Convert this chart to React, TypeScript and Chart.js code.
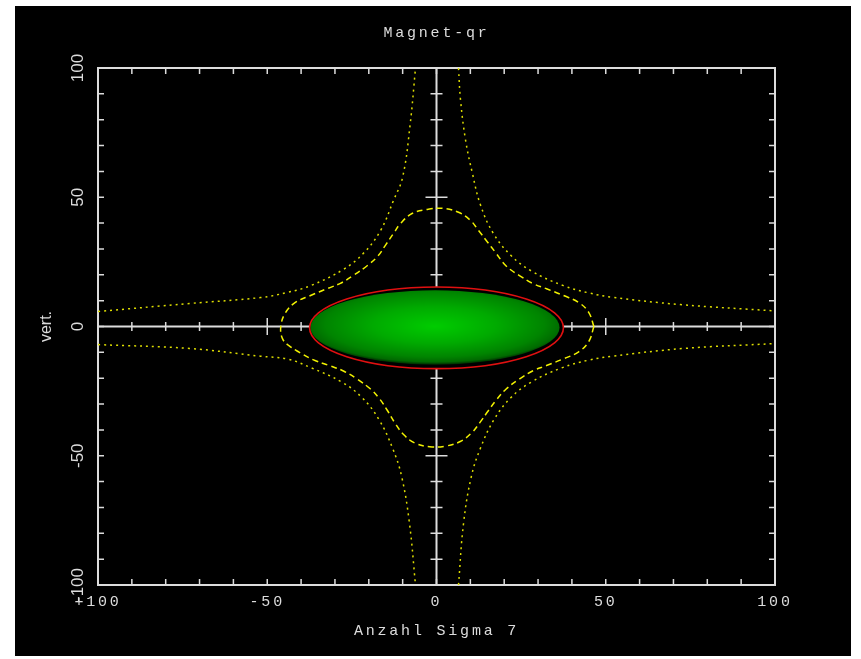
import React, { useEffect, useRef } from 'react';
import { Chart, registerables } from 'chart.js';
Chart.register(...registerables);

// ---- text ----
const TITLE = 'Magnet-qr';
const X_TITLE = 'Anzahl Sigma 7';
const Y_TITLE = 'vert.';

// ---- axes ----
const AXIS_MIN = -100;
const AXIS_MAX = 100;
const TICK_STEP = 10;
const xTickValues = [-100, -50, 0, 50, 100];
const xTickLabels = ['+100', '-50', '0', '50', '100'];
const yTickValues = [-100, -50, 0, 50, 100];
const yTickLabels = ['-100', '-50', '0', '50', '100'];

// ---- dotted hyperbola-like branches ----
const dotULx = [-100, -73, -52, -44, -37, -27.5, -21.6, -16.5, -12.7, -10, -7.8, -6.2];
const dotULy = [5.8, 8.9, 11.2, 13.2, 15.9, 22.1, 28.3, 37.2, 48.8, 57.8, 78, 100];
const dotURx = [6.5, 7.1, 8.6, 10.6, 13, 16.8, 22, 28, 37.5, 45, 52, 72, 100];
const dotURy = [100, 87.6, 72, 59.3, 47, 36, 27.5, 21.5, 15.8, 13, 11.3, 8.5, 6];
const dotLLx = [-100, -73, -52, -44, -37, -28, -22, -17, -13, -10.3, -8, -6.2];
const dotLLy = [-7.0, -8.5, -11.5, -12.6, -16, -21.5, -27.5, -36, -47, -58, -76, -100];
const dotLRx = [6.5, 8, 10.3, 13, 17, 22, 28, 37, 45, 52, 73, 100];
const dotLRy = [-100, -76, -58, -47, -36, -27.5, -21.5, -16, -13, -11.5, -8.5, -6.6];

// ---- dashed closed contour ----
const dashX = [46.5, 45, 42, 37.5, 32.5, 28.5, 24.5, 20.5, 17.4, 15.1, 12.4, 10, 6.5, 1.8, -2.7, -7.1, -10.6, -12.7, -15.1, -17.4, -20.4, -24.5, -28.4, -32.2, -37.2, -41.7, -44.6, -46, -45.5, -43.5, -40.5, -36.5, -31.5, -27.5, -23.5, -19.5, -16.8, -14.6, -12.2, -9.8, -6.5, -2, 2.5, 7, 10.5, 12.8, 15.2, 17.5, 20.5, 24.5, 28.5, 32.5, 37.5, 42, 45, 46.5];
const dashY = [0, 5.4, 9.3, 12, 14.6, 16.6, 19.7, 23.5, 28.7, 32.6, 37.2, 41.1, 44.2, 45.7, 45.3, 43.8, 39.9, 36, 31.4, 27.1, 23.6, 19.8, 16.7, 14.7, 12, 9.3, 5.4, 0, -4.7, -7.5, -10, -12.8, -15.2, -17.2, -20.3, -24.2, -28, -32.3, -37.5, -41.7, -45, -46.5, -46.3, -44.5, -41, -37.2, -32.8, -28.7, -24.3, -20.3, -17.1, -15.1, -12.5, -9.8, -5.8, 0];

// ---- beam ellipse: [centerX, centerY, radiusX, radiusY] ----
const outlineEllipse = [0, -0.5, 37.5, 15.8];
const fillEllipse = [-0.45, -0.35, 36.8, 14.4];

const FG = '#dcdcdc';
const DOT_COLOR = '#dede00';
const DASH_COLOR = '#f2f200';

const pts = (xs: number[], ys: number[]) => xs.map((x, i) => ({ x, y: ys[i] }));

const spacingPlugin = {
  id: 'spacing',
  beforeDraw(chart: any) {
    chart.ctx.letterSpacing = '2.8px';
  },
  afterDatasetsDraw(chart: any) {
    chart.ctx.letterSpacing = '0px';
  },
};

const framePlugin = {
  id: 'frame',
  beforeDatasetsDraw(chart: any) {
    const { ctx, chartArea: a } = chart;
    const xs = chart.scales.x;
    const ys = chart.scales.y;
    const x0 = xs.getPixelForValue(0);
    const y0 = ys.getPixelForValue(0);
    ctx.save();
    ctx.strokeStyle = FG;
    ctx.lineWidth = 2;
    ctx.strokeRect(a.left, a.top, a.right - a.left, a.bottom - a.top);
    ctx.beginPath();
    ctx.moveTo(a.left, y0);
    ctx.lineTo(a.right, y0);
    ctx.moveTo(x0, a.top);
    ctx.lineTo(x0, a.bottom);
    ctx.stroke();
    ctx.lineWidth = 1.5;
    ctx.beginPath();
    const edge = 6;
    xs.ticks.forEach((t: any) => {
      const v = t.value;
      if (v <= xs.min || v >= xs.max) return;
      const p = xs.getPixelForValue(v);
      ctx.moveTo(p, a.top);
      ctx.lineTo(p, a.top + edge);
      ctx.moveTo(p, a.bottom);
      ctx.lineTo(p, a.bottom - edge);
      if (v !== 0) {
        const h = v % 50 === 0 ? 8.5 : 4.5;
        ctx.moveTo(p, y0 - h);
        ctx.lineTo(p, y0 + h);
      }
    });
    ys.ticks.forEach((t: any) => {
      const v = t.value;
      if (v <= ys.min || v >= ys.max) return;
      const p = ys.getPixelForValue(v);
      ctx.moveTo(a.left, p);
      ctx.lineTo(a.left + edge, p);
      ctx.moveTo(a.right, p);
      ctx.lineTo(a.right - edge, p);
      if (v !== 0) {
        const h = v % 50 === 0 ? 11 : 6;
        ctx.moveTo(x0 - h, p);
        ctx.lineTo(x0 + h, p);
      }
    });
    ctx.stroke();
    ctx.restore();
  },
};

const ellipsePlugin = {
  id: 'beamEllipse',
  afterDatasetsDraw(chart: any) {
    const { ctx } = chart;
    const xs = chart.scales.x;
    const ys = chart.scales.y;
    const toPx = (e: number[]) => {
      const cx = xs.getPixelForValue(e[0]);
      const cy = ys.getPixelForValue(e[1]);
      const rx = Math.abs(xs.getPixelForValue(e[0] + e[2]) - cx);
      const ry = Math.abs(ys.getPixelForValue(e[1] + e[3]) - cy);
      return [cx, cy, rx, ry];
    };
    const [ocx, ocy, orx, ory] = toPx(outlineEllipse);
    const [fcx, fcy, frx, fry] = toPx(fillEllipse);
    ctx.save();
    ctx.beginPath();
    ctx.ellipse(ocx, ocy, orx, ory, 0, 0, Math.PI * 2);
    ctx.fillStyle = '#000';
    ctx.fill();
    ctx.restore();

    ctx.save();
    ctx.translate(fcx, fcy);
    ctx.scale(frx, fry);
    const g = ctx.createRadialGradient(0, -0.03, 0, 0, -0.1, 1.1);
    g.addColorStop(0, '#00cc00');
    g.addColorStop(0.45, '#00aa00');
    g.addColorStop(0.8, '#008400');
    g.addColorStop(0.93, '#006a00');
    g.addColorStop(1, '#002800');
    ctx.beginPath();
    ctx.arc(0, 0, 1, 0, Math.PI * 2);
    ctx.fillStyle = g;
    ctx.fill();
    ctx.restore();

    ctx.save();
    ctx.beginPath();
    ctx.ellipse(ocx, ocy, orx, ory, 0, 0, Math.PI * 2);
    ctx.strokeStyle = '#e01010';
    ctx.lineWidth = 1.6;
    ctx.stroke();
    ctx.restore();
  },
};

const lineDs = (data: any[], color: string, dash: number[]) => ({
  data,
  showLine: true,
  pointRadius: 0,
  borderColor: color,
  borderWidth: 1.5,
  borderDash: dash,
  tension: 0.4,
  fill: false,
});

export default function App() {
  const ref = useRef<HTMLCanvasElement | null>(null);
  useEffect(() => {
    if (!ref.current) return;
    const chart = new Chart(ref.current, {
      type: 'scatter',
      data: {
        datasets: [
          lineDs(pts(dotULx, dotULy), DOT_COLOR, [2, 4]),
          lineDs(pts(dotURx, dotURy), DOT_COLOR, [2, 4]),
          lineDs(pts(dotLLx, dotLLy), DOT_COLOR, [2, 4]),
          lineDs(pts(dotLRx, dotLRy), DOT_COLOR, [2, 4]),
          lineDs(pts(dashX, dashY), DASH_COLOR, [6, 4]),
        ] as any,
      },
      options: {
        animation: false,
        responsive: false,
        layout: { padding: { left: 0, right: 76, top: 0, bottom: 0 } },
        plugins: {
          legend: { display: false },
          tooltip: { enabled: false },
          title: {
            display: true,
            text: TITLE,
            color: FG,
            fullSize: false,
            font: { family: "'Liberation Mono', monospace", size: 15, weight: 'normal' },
            padding: { top: 18, bottom: 26 },
          },
        },
        scales: {
          x: {
            type: 'linear',
            min: AXIS_MIN,
            max: AXIS_MAX,
            grid: { display: false },
            border: { display: false },
            afterFit: (s: any) => { s.height = 71; },
            ticks: {
              stepSize: TICK_STEP,
              autoSkip: false,
              maxRotation: 0,
              minRotation: 0,
              color: FG,
              padding: 0.5,
              font: { family: "'Liberation Mono', monospace", size: 15 },
              callback: (v: any) => {
                const i = xTickValues.indexOf(Number(v));
                return i >= 0 ? xTickLabels[i] : '';
              },
            },
            title: {
              display: true,
              text: X_TITLE,
              color: FG,
              font: { family: "'Liberation Mono', monospace", size: 15 },
              padding: { top: 0, bottom: 16 },
            },
          },
          y: {
            type: 'linear',
            min: AXIS_MIN,
            max: AXIS_MAX,
            grid: { display: false, z: 1 },
            border: { display: false },
            afterFit: (s: any) => { s.width = 83; },
            ticks: {
              z: 1,
              stepSize: TICK_STEP,
              autoSkip: false,
              minRotation: 90,
              maxRotation: 90,
              crossAlign: 'center',
              color: FG,
              padding: -5.5,
              font: { family: "'Liberation Sans', sans-serif", size: 17 },
              callback: (v: any) => {
                const i = yTickValues.indexOf(Number(v));
                return i >= 0 ? yTickLabels[i] : '';
              },
            },
            title: {
              display: true,
              text: Y_TITLE,
              color: FG,
              font: { family: "'Liberation Sans', sans-serif", size: 16 },
              padding: { top: 21.5, bottom: 0 },
            },
          },
        },
      } as any,
      plugins: [spacingPlugin, framePlugin, ellipsePlugin],
    });
    return () => chart.destroy();
  }, []);

  return (
    <div style={{ position: 'fixed', left: 0, top: 0, width: 861, height: 659, background: '#fff' }}>
      <div style={{ position: 'absolute', left: 15, top: 6, width: 836, height: 650, background: '#000' }}>
        <canvas ref={ref} width={836} height={650} style={{ width: 836, height: 650, display: 'block' }} />
      </div>
    </div>
  );
}
